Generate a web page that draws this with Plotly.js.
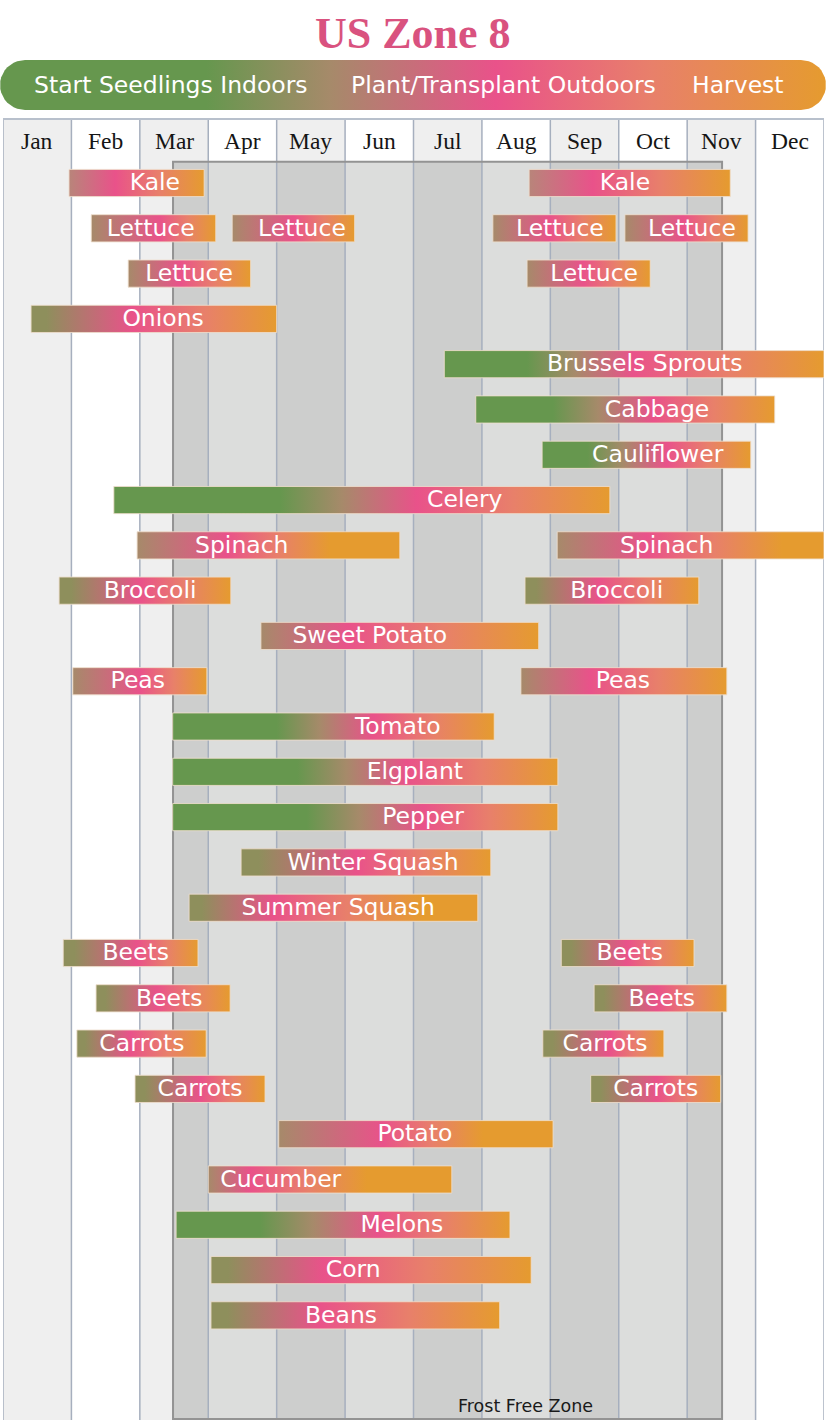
<!DOCTYPE html>
<html><head><meta charset="utf-8">
<script src="https://cdn.plot.ly/plotly-3.0.1.min.js"></script>
<style>html,body{margin:0;padding:0;background:#fff}#chart{width:826px;height:1422px}</style>
</head><body><div id="chart"></div>
<script>
// ---------------- DATA ----------------
const months = ['Jan','Feb','Mar','Apr','May','Jun','Jul','Aug','Sep','Oct','Nov','Dec'];
const legendLabels = ['Start Seedlings Indoors','Plant/Transplant Outdoors','Harvest'];
const crops = ['Kale','Kale','Lettuce','Lettuce','Lettuce','Lettuce','Lettuce','Lettuce','Onions',
  'Brussels Sprouts','Cabbage','Cauliflower','Celery','Spinach','Spinach','Broccoli','Broccoli',
  'Sweet Potato','Peas','Peas','Tomato','Elgplant','Pepper','Winter Squash','Summer Squash',
  'Beets','Beets','Beets','Beets','Carrots','Carrots','Carrots','Carrots','Potato','Cucumber',
  'Melons','Corn','Beans'];
const rows    = [0,0,1,1,1,1,2,2,3,4,5,6,7,8,8,9,9,10,11,11,12,13,14,15,16,17,17,18,18,19,19,20,20,21,22,23,24,25];
// month positions (0 = start of Jan, 12 = end of Dec)
const starts  = [0.965,7.69,1.29,3.35,7.16,9.09,1.83,7.66,0.41,6.45,6.91,7.88,1.62,1.96,8.10,0.82,7.63,3.77,1.02,7.57,2.48,2.48,2.48,3.48,2.72,0.88,8.16,1.36,8.64,1.08,7.89,1.93,8.59,4.03,3.00,2.53,3.04,3.04];
const ends    = [2.94,10.63,3.11,5.14,8.96,10.89,3.62,9.46,4.00,12.0,11.28,10.93,8.87,5.80,12.0,3.33,10.17,7.83,2.98,10.58,7.18,8.11,8.11,7.13,6.94,2.85,10.10,3.32,10.58,2.97,9.66,3.83,10.49,8.04,6.56,7.41,7.72,7.26];
// end of indoor-seedling phase (null = none)
const indoorEnd = [null,null,null,null,null,null,null,null,null,7.66,8.04,8.54,4.05,null,null,null,null,null,null,null,4.00,4.30,4.44,null,null,null,null,null,null,null,null,null,null,null,null,3.76,null,null];
// peak of plant/transplant phase
const plantAt = [1.64,8.62,2.29,4.24,7.99,9.94,2.59,8.48,1.90,9.21,9.50,9.70,6.05,3.27,9.41,2.00,8.71,5.04,2.00,8.59,5.41,5.90,6.14,5.17,3.95,1.96,9.12,2.25,9.56,1.86,8.87,2.88,9.56,5.55,3.61,5.47,4.68,4.63];
// start of full harvest (null = at bar end)
const harvestAt = [null,null,null,null,null,null,null,null,null,null,null,null,null,4.78,11.39,null,null,null,null,null,null,null,null,null,6.14,null,null,null,null,null,null,null,null,7.02,5.32,null,null,null];
// starting phase tone: g = indoors, o = early sowing, t = late sowing, k = kale
const startTone = ['k','k','t','t','t','t','t','t','o','g','g','g','g','t','t','o','o','t','t','t','g','g','g','o','o','o','o','o','o','o','o','o','o','t','t','g','o','o'];
const labelX  = [2.22,9.09,2.16,4.37,8.14,10.07,2.72,8.64,2.34,9.38,9.56,9.57,6.75,3.49,9.70,2.15,8.97,5.36,1.97,9.06,5.77,6.02,6.14,5.41,4.90,1.94,9.16,2.43,9.63,2.03,8.80,2.88,9.54,6.02,4.06,5.83,5.12,4.94];
const frostStart = 2.485, frostEnd = 10.51;

// ---------------- STYLE ----------------
const GREEN='#66974e', TAUPE='#a68a6a', OLIVE='#8e8f5c', KALE='#b8857a', PINK='#e9528a', CORAL='#e8806a', ORANGE='#e59b2f';
const toneColor = {g:GREEN, o:OLIVE, t:TAUPE, k:KALE};
const H = 0.3; // half bar height in rows
const yTop = -1.435, yBottom = 27.31, headerBottom = -0.47;

const traces = [];
crops.forEach((name,i)=>{
  const s=starts[i], e=ends[i], r=rows[i], L=e-s;
  const f = v => Math.min(1, Math.max(0,(v-s)/L));
  const p = f(plantAt[i]);
  const hv = harvestAt[i]==null ? 1 : f(harvestAt[i]);
  let cs;
  if (startTone[i]==='g') {
    const g = f(indoorEnd[i]);
    cs = [[0,GREEN],[g,GREEN],[g+(p-g)*0.45,TAUPE],[p,PINK],[p+(hv-p)*0.5,CORAL],[hv,ORANGE]];
  } else if (startTone[i]==='o') {
    cs = [[0,OLIVE],[p*0.15,OLIVE],[p,PINK],[p+(hv-p)*0.5,CORAL],[hv,ORANGE]];
  } else {
    cs = [[0,toneColor[startTone[i]]],[p,PINK],[p+(hv-p)*0.5,CORAL],[hv,ORANGE]];
  }
  if (hv<1) cs.push([1,ORANGE]);
  traces.push({
    type:'scatter', mode:'lines', x:[s,e,e,s,s], y:[r-H,r-H,r+H,r+H,r-H],
    fill:'toself', line:{color:'rgba(238,222,205,0.85)', width:1},
    fillgradient:{type:'horizontal', colorscale:cs, start:s, stop:e},
    hoverinfo:'skip', showlegend:false, xaxis:'x', yaxis:'y'
  });
});
traces.push({
  type:'scatter', mode:'text', x:labelX, y:rows.map(r=>r+0.03), text:crops,
  textfont:{family:'DejaVu Sans', size:23.5, color:'#ffffff'},
  textposition:'middle center', hoverinfo:'skip', showlegend:false
});

// legend pill (rounded rectangle) on its own axes
const px=[], py=[], R=25, W=826;
for(let k=0;k<=20;k++){const a=-Math.PI/2+Math.PI*k/20; px.push(W-R+R*Math.cos(a)); py.push(25+R*Math.sin(a));}
for(let k=0;k<=20;k++){const a=Math.PI/2+Math.PI*k/20; px.push(R+R*Math.cos(a)); py.push(25+R*Math.sin(a));}
px.push(px[0]); py.push(py[0]);
traces.push({
  type:'scatter', mode:'lines', x:px, y:py, fill:'toself', line:{width:0, color:'rgba(0,0,0,0)'},
  fillgradient:{type:'horizontal', start:0, stop:W,
    colorscale:[[0,GREEN],[0.25,GREEN],[0.40,TAUPE],[0.60,PINK],[0.79,CORAL],[1,ORANGE]]},
  xaxis:'x2', yaxis:'y2', hoverinfo:'skip', showlegend:false
});

const shapes=[];
months.forEach((m,i)=>{
  shapes.push({type:'rect',layer:'below',xref:'x',yref:'y',x0:i,x1:i+1,y0:yTop,y1:yBottom,
    fillcolor: i%2===0?'#efefef':'#ffffff', line:{width:0}});
});
shapes.push({type:'rect',layer:'below',xref:'x',yref:'y',x0:frostStart,x1:frostEnd,y0:headerBottom,y1:yBottom,
  fillcolor:'#dcdddc',line:{width:0}});
months.forEach((m,i)=>{
  if(i%2!==0) return;
  const a=Math.max(i,frostStart), b=Math.min(i+1,frostEnd);
  if(b>a) shapes.push({type:'rect',layer:'below',xref:'x',yref:'y',x0:a,x1:b,y0:headerBottom,y1:yBottom,
    fillcolor:'#cdcecd',line:{width:0}});
});
for(let i=0;i<=12;i++){
  shapes.push({type:'line',layer:'below',xref:'x',yref:'y',x0:i,x1:i,y0:yTop,y1:yBottom,line:{color:'#a6afbe',width:1.5}});
}
shapes.push({type:'line',layer:'below',xref:'x',yref:'y',x0:0,x1:12,y0:yTop+0.02,y1:yTop+0.02,line:{color:'#b8c0cc',width:2}});
shapes.push({type:'rect',layer:'below',xref:'x',yref:'y',x0:frostStart,x1:frostEnd,y0:headerBottom,y1:yBottom-0.02,
  fillcolor:'rgba(0,0,0,0)',line:{color:'#939393',width:2}});

const annotations=[];
months.forEach((m,i)=>annotations.push({xref:'x',yref:'y',x:i+0.5,y:-0.92,text:m,showarrow:false,
  font:{family:'Liberation Serif',size:23.5,color:'#151515'}}));
annotations.push({xref:'paper',yref:'paper',x:0.5,y:1-33/1422,text:'<b>US Zone 8</b>',showarrow:false,
  xanchor:'center',yanchor:'middle',font:{family:'Liberation Serif',size:44,color:'#d9527f'}});
const legX=[171/826,503.5/826,737.5/826];
legendLabels.forEach((t,i)=>annotations.push({xref:'paper',yref:'paper',x:legX[i],y:1-85/1422,text:t,showarrow:false,
  xanchor:'center',yanchor:'middle',font:{family:'DejaVu Sans',size:23.5,color:'#ffffff'}}));
annotations.push({xref:'x',yref:'y',x:7.63,y:27.0,text:'Frost Free Zone',showarrow:false,
  font:{family:'DejaVu Sans',size:17.5,color:'#1a1a1a'}});

const layout={
  width:826,height:1422,margin:{l:0,r:0,t:0,b:0},paper_bgcolor:'#ffffff',plot_bgcolor:'rgba(0,0,0,0)',
  showlegend:false,
  xaxis:{domain:[3/826,824/826],range:[0,12],showgrid:false,zeroline:false,showticklabels:false,showline:false,fixedrange:true},
  yaxis:{domain:[2/1422,1304/1422],range:[yBottom,yTop],showgrid:false,zeroline:false,showticklabels:false,showline:false,fixedrange:true},
  xaxis2:{domain:[0,1],range:[0,826],visible:false,fixedrange:true,anchor:'y2'},
  yaxis2:{domain:[(1422-110)/1422,(1422-60)/1422],range:[0,50],visible:false,fixedrange:true,anchor:'x2'},
  shapes,annotations
};
Plotly.newPlot('chart',traces,layout,{staticPlot:true,displayModeBar:false});
</script></body></html>
